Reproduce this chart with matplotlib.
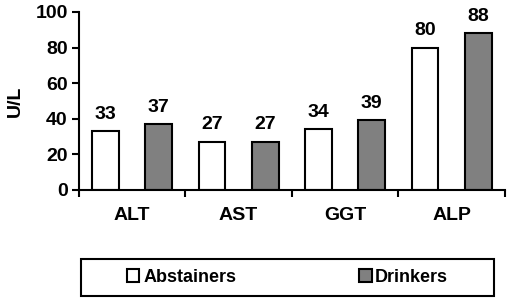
import matplotlib.pyplot as plt
import matplotlib.patches as mpatches
import numpy as np

plt.rcParams['font.family'] = ['Liberation Sans', 'DejaVu Sans']
plt.rcParams['font.weight'] = 'bold'

categories = ["ALT", "AST", "GGT", "ALP"]
abstainers = [33, 27, 34, 80]
drinkers = [37, 27, 39, 88]

fs = 14

fig = plt.figure(figsize=(5.12, 2.99), dpi=100)
ax = fig.add_axes([0.154, 0.365, 0.832, 0.595])

x = np.arange(len(categories))
w = 0.25
b1 = ax.bar(x - w, abstainers, w, color="white", edgecolor="black", linewidth=1.5, label="Abstainers")
b2 = ax.bar(x + w, drinkers, w, color="#808080", edgecolor="black", linewidth=1.5, label="Drinkers")

for bars, vals in [(b1, abstainers), (b2, drinkers)]:
    for rect, v in zip(bars, vals):
        ax.annotate(str(v), (rect.get_x() + rect.get_width() / 2, v),
                    xytext=(0, 6), textcoords="offset points",
                    ha="center", va="bottom", fontsize=fs, fontweight="bold")

ax.set_xlim(-0.5, 3.5)
ax.set_ylim(0, 100)
ax.set_yticks([0, 20, 40, 60, 80, 100])
ax.set_xticks(np.arange(-0.5, 4, 1))
ax.set_xticklabels([])
ax.set_xticks(x, minor=True)
ax.set_xticklabels(categories, minor=True)
ax.tick_params(axis="x", which="minor", length=0, pad=12, labelsize=fs)
ax.tick_params(axis="x", which="major", length=5, width=1.5, direction="out")
ax.tick_params(axis="y", length=5, width=1.5, labelsize=fs, pad=3)
ax.set_ylabel("U/L", fontsize=fs, fontweight="bold", labelpad=8)

ax.spines["top"].set_visible(False)
ax.spines["right"].set_visible(False)
ax.spines["left"].set_linewidth(1.5)
ax.spines["bottom"].set_linewidth(1.5)

# legend box drawn separately so the padding can be wide
box = mpatches.Rectangle((0.158, 0.01), 0.807, 0.124, transform=fig.transFigure,
                         fill=False, edgecolor="black", linewidth=1.5)
fig.add_artist(box)
leg = fig.legend(handles=[b1, b2], loc="center", ncol=2,
                 bbox_to_anchor=(0.158 + 0.807 / 2, 0.01 + 0.124 / 2),
                 frameon=False, prop={"size": 13, "weight": "bold"},
                 handlelength=0.7, handleheight=0.7, handletextpad=0.2,
                 columnspacing=6.8)

fig.savefig("out.png", dpi=100)
